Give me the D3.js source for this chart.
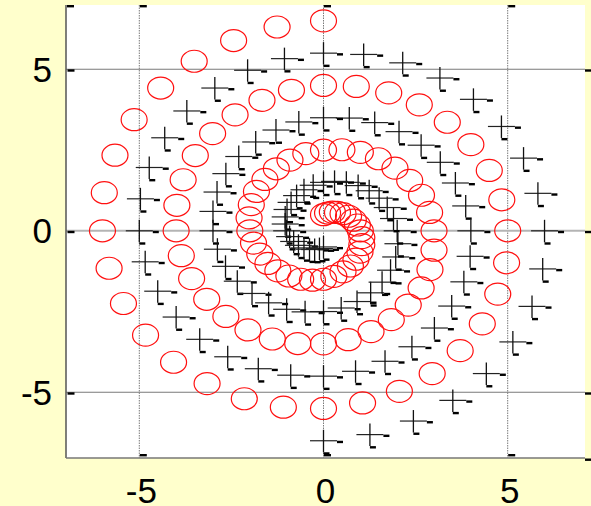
<!DOCTYPE html>
<html>
<head>
<meta charset="utf-8">
<script src="https://cdn.jsdelivr.net/npm/d3@7"></script>
<style>
  html, body { margin: 0; padding: 0; background: #ffffcc; }
  svg { display: block; }
</style>
</head>
<body>
<div id="chart"></div>
<script>
// red "o" spiral (outer end at top, curling in)
const redX = [0, -1.26, -2.44, -3.51, -4.42, -5.14, -5.66, -5.95, -6,
  -5.82, -5.43, -4.83, -4.07, -3.16, -2.15, -1.09, 0,
  1.06, 2.06, 2.95, 3.71, 4.31, 4.73, 4.97, 5,
  4.84, 4.50, 4.00, 3.36, 2.60, 1.77, 0.89, 0,
  -0.87, -1.67, -2.40, -3.01, -3.48, -3.81, -3.98, -4,
  -3.86, -3.58, -3.17, -2.65, -2.05, -1.39, -0.70, 0,
  0.67, 1.29, 1.84, 2.30, 2.65, 2.89, 3.00, 3,
  2.88, 2.66, 2.34, 1.94, 1.49, 1.00, 0.50, 0,
  -0.48, -0.91, -1.28, -1.59, -1.82, -1.96, -2.02, -2,
  -1.90, -1.73, -1.51, -1.24, -0.94, -0.62, -0.30, 0,
  0.28, 0.53, 0.73, 0.88, 0.99, 1.04, 1.04, 1,
  0.92, 0.81, 0.68, 0.53, 0.38, 0.24, 0.11, 0];
const redY = [6.5, 6.31, 5.89, 5.25, 4.42, 3.44, 2.34, 1.18, 0,
  -1.16, -2.25, -3.23, -4.07, -4.73, -5.20, -5.46, -5.5,
  -5.33, -4.97, -4.42, -3.71, -2.88, -1.96, -0.99, 0,
  0.96, 1.87, 2.67, 3.36, 3.90, 4.27, 4.47, 4.5,
  4.35, 4.04, 3.59, 3.01, 2.33, 1.58, 0.79, 0,
  -0.77, -1.48, -2.12, -2.65, -3.07, -3.35, -3.49, -3.5,
  -3.37, -3.12, -2.75, -2.30, -1.77, -1.20, -0.60, 0,
  0.57, 1.10, 1.56, 1.94, 2.23, 2.43, 2.51, 2.5,
  2.39, 2.19, 1.92, 1.59, 1.22, 0.81, 0.40, 0,
  -0.38, -0.72, -1.01, -1.24, -1.40, -1.50, -1.53, -1.5,
  -1.41, -1.27, -1.09, -0.88, -0.66, -0.43, -0.21, 0,
  0.18, 0.33, 0.45, 0.53, 0.57, 0.58, 0.55, 0.5];

// black "+" spiral (outer end at bottom)
const blackX = [0, 1.26, 2.44, 3.51, 4.42, 5.14, 5.66, 5.95, 6,
  5.82, 5.43, 4.83, 4.07, 3.16, 2.15, 1.09, 0,
  -1.06, -2.06, -2.95, -3.71, -4.31, -4.73, -4.97, -5,
  -4.84, -4.50, -4.00, -3.36, -2.60, -1.77, -0.89, 0,
  0.87, 1.67, 2.40, 3.01, 3.48, 3.81, 3.98, 4,
  3.86, 3.58, 3.17, 2.65, 2.05, 1.39, 0.70, 0,
  -0.67, -1.29, -1.84, -2.30, -2.65, -2.89, -3.00, -3,
  -2.88, -2.66, -2.34, -1.94, -1.49, -1.00, -0.50, 0,
  0.48, 0.91, 1.28, 1.59, 1.82, 1.96, 2.02, 2,
  1.90, 1.73, 1.51, 1.24, 0.94, 0.62, 0.30, 0,
  -0.28, -0.53, -0.73, -0.88, -0.99, -1.04, -1.04, -1,
  -0.92, -0.81, -0.68, -0.53, -0.38, -0.24, -0.11, 0];
const blackY = [-6.5, -6.31, -5.89, -5.25, -4.42, -3.44, -2.34, -1.18, 0,
  1.16, 2.25, 3.23, 4.07, 4.73, 5.20, 5.46, 5.5,
  5.33, 4.97, 4.42, 3.71, 2.88, 1.96, 0.99, 0,
  -0.96, -1.87, -2.67, -3.36, -3.90, -4.27, -4.47, -4.5,
  -4.35, -4.04, -3.59, -3.01, -2.33, -1.58, -0.79, 0,
  0.77, 1.48, 2.12, 2.65, 3.07, 3.35, 3.49, 3.5,
  3.37, 3.12, 2.75, 2.30, 1.77, 1.20, 0.60, 0,
  -0.57, -1.10, -1.56, -1.94, -2.23, -2.43, -2.51, -2.5,
  -2.39, -2.19, -1.92, -1.59, -1.22, -0.81, -0.40, 0,
  0.38, 0.72, 1.01, 1.24, 1.40, 1.50, 1.53, 1.5,
  1.41, 1.27, 1.09, 0.88, 0.66, 0.43, 0.21, 0,
  -0.18, -0.33, -0.45, -0.53, -0.57, -0.58, -0.55, -0.5];

const xTicks = [-5, 0, 5];
const yTicks = [-5, 0, 5];
const xTickLabels = ["-5", "0", "5"];
const yTickLabels = ["-5", "0", "5"];

const config = {
    width: 591,
    height: 506,
    plot: {left: 66, right: 585, top: 5, bottom: 458},
    circle: {rx: 13, ry: 11},
    plus: {half_w: 13.5, up: 11, down: 11.5},
    dash: {w: 6, h: 2.4},
    font: "'Liberation Sans', Arial, sans-serif",
    font_size: 35
}

function zip(xs, ys) {
    return xs.map((x, i) => ({x: x, y: ys[i]}));
}

const red_points = zip(redX, redY);
const black_points = zip(blackX, blackY);

const x = d3.scaleLinear().domain([-5, 5]).range([139.3, 507.7]);
const y = d3.scaleLinear().domain([-5, 5]).range([392.3, 69.3]);
const p = config.plot;

const svg = d3.select("#chart")
    .append("svg")
    .attr("width", config.width)
    .attr("height", config.height);

svg.append("rect")
    .attr("width", config.width)
    .attr("height", config.height)
    .attr("fill", "#ffffcc");

svg.append("rect")
    .attr("x", p.left)
    .attr("y", p.top)
    .attr("width", p.right - p.left)
    .attr("height", p.bottom - p.top)
    .attr("fill", "#ffffff");

// grid: dotted verticals, solid horizontals
svg.selectAll(".vgrid")
    .data(xTicks)
    .enter()
    .append("line")
    .attr("class", "vgrid")
    .attr("x1", d => x(d)).attr("x2", d => x(d))
    .attr("y1", p.top).attr("y2", p.bottom)
    .attr("stroke", "#7a7a7a")
    .attr("stroke-width", 1)
    .attr("stroke-dasharray", "1.5,1");

svg.selectAll(".hgrid")
    .data(yTicks)
    .enter()
    .append("line")
    .attr("class", "hgrid")
    .attr("x1", p.left).attr("x2", p.right)
    .attr("y1", d => y(d)).attr("y2", d => y(d))
    .attr("stroke", d => d === 0 ? "#b4b4b4" : "#7a7a7a")
    .attr("stroke-width", d => d === 0 ? 2 : 1.1);

// frame (left + bottom only)
svg.append("line")
    .attr("x1", p.left).attr("x2", p.left)
    .attr("y1", p.top).attr("y2", p.bottom)
    .attr("stroke", "#555")
    .attr("stroke-width", 1.5);
svg.append("line")
    .attr("x1", p.left).attr("x2", p.right)
    .attr("y1", p.bottom).attr("y2", p.bottom)
    .attr("stroke", "#777")
    .attr("stroke-width", 1.5);

// red circles
svg.selectAll(".red")
    .data(red_points)
    .enter()
    .append("ellipse")
    .attr("class", "red")
    .attr("cx", d => x(d.x))
    .attr("cy", d => y(d.y))
    .attr("rx", config.circle.rx)
    .attr("ry", config.circle.ry)
    .attr("fill", "none")
    .attr("stroke", "#ff1010")
    .attr("stroke-width", 1.2);

// black plus markers with their little dashes
const pl = config.plus, ds = config.dash;
const plus = svg.selectAll(".plus")
    .data(black_points)
    .enter()
    .append("g")
    .attr("class", "plus")
    .attr("transform", d => `translate(${x(d.x)},${y(d.y)})`);

plus.append("line")
    .attr("x1", -pl.half_w).attr("x2", pl.half_w)
    .attr("y1", 0).attr("y2", 0)
    .attr("stroke", "#222")
    .attr("stroke-width", 1.2);
plus.append("line")
    .attr("x1", 0).attr("x2", 0)
    .attr("y1", -pl.up).attr("y2", pl.down)
    .attr("stroke", "#111")
    .attr("stroke-width", 1.3);
plus.append("rect")
    .attr("x", pl.half_w).attr("y", 0)
    .attr("width", ds.w).attr("height", ds.h)
    .attr("fill", "#000");
plus.append("rect")
    .attr("x", 0).attr("y", pl.down)
    .attr("width", ds.w).attr("height", ds.h)
    .attr("fill", "#000");

// tick dashes on the four sides
const tickDash = [];
xTicks.forEach(v => {
    tickDash.push({x: x(v) + 0.5, y: p.top});
    tickDash.push({x: x(v) + 0.5, y: p.bottom - 4});
});
yTicks.forEach(v => {
    tickDash.push({x: p.left + 1.5, y: y(v)});
    tickDash.push({x: p.right, y: y(v)});
});
tickDash.push({x: p.left + 1, y: p.top});
tickDash.push({x: p.right, y: p.bottom + 0.5});

svg.selectAll(".tickdash")
    .data(tickDash)
    .enter()
    .append("rect")
    .attr("class", "tickdash")
    .attr("x", d => d.x)
    .attr("y", d => d.y)
    .attr("width", ds.w + 1)
    .attr("height", ds.h)
    .attr("fill", "#000");

// tick labels
svg.selectAll(".ylab")
    .data(yTicks)
    .enter()
    .append("text")
    .attr("class", "ylab")
    .attr("x", 52)
    .attr("y", d => y(d) + 12.5)
    .attr("text-anchor", "end")
    .attr("font-family", config.font)
    .attr("font-size", config.font_size)
    .attr("fill", "#000")
    .text((d, i) => yTickLabels[i]);

svg.selectAll(".xlab")
    .data(xTicks)
    .enter()
    .append("text")
    .attr("class", "xlab")
    .attr("x", d => x(d) + 2)
    .attr("y", 503)
    .attr("text-anchor", "middle")
    .attr("font-family", config.font)
    .attr("font-size", config.font_size)
    .attr("fill", "#000")
    .text((d, i) => xTickLabels[i]);
</script>
</body>
</html>
